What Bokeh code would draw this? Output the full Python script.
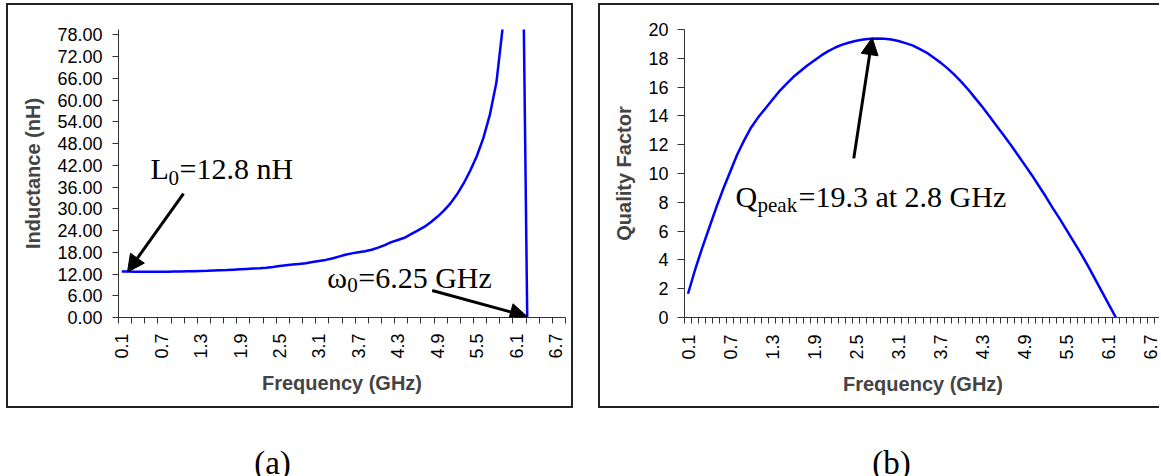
import math
from bokeh.plotting import figure
from bokeh.layouts import row, column
from bokeh.models import (FixedTicker, NumeralTickFormatter, Arrow, NormalHead,
                          Label, Range1d)
from bokeh.embed import file_html
from bokeh.resources import INLINE

# ---------------- data ----------------
freq_ghz = [round(0.1 * k, 1) for k in range(1, 69)]   # category axis 0.1 .. 6.8 GHz

inductance_nh = [
    12.7, 12.7, 12.65, 12.6, 12.6, 12.6, 12.6, 12.65, 12.7, 12.7,
    12.75, 12.8, 12.85, 12.9, 13.0, 13.05, 13.1, 13.2, 13.3, 13.4,
    13.5, 13.6, 13.75, 13.95, 14.2, 14.4, 14.6, 14.8, 15.0, 15.3,
    15.6, 15.9, 16.3, 16.8, 17.3, 17.7, 18.0, 18.3, 18.7, 19.3,
    20.0, 20.8, 21.4, 22.0, 23.0, 24.0, 25.0, 26.3, 27.8, 29.5,
    31.5, 34.0, 37.0, 40.5, 44.5, 49.5, 56.0, 65.0, 81.0, 95.0,
    100.0, 105.0, -50.0, -30.0, -22.0, -18.0, -15.0, -13.0,
]

quality_factor = [
    1.65, 3.3, 4.8, 6.2, 7.6, 8.9, 10.1, 11.3, 12.3, 13.2,
    13.9, 14.5, 15.1, 15.7, 16.2, 16.7, 17.1, 17.5, 17.85, 18.2,
    18.5, 18.75, 18.95, 19.1, 19.22, 19.3, 19.35, 19.37, 19.35, 19.3,
    19.2, 19.05, 18.9, 18.65, 18.4, 18.05, 17.7, 17.3, 16.85, 16.35,
    15.8, 15.2, 14.6, 13.95, 13.3, 12.65, 12.0, 11.3, 10.6, 9.9,
    9.15, 8.4, 7.6, 6.85, 6.05, 5.25, 4.45, 3.6, 2.7, 1.8,
    0.9, 0.0, -0.9, -1.8, -2.7, -3.6, -4.5, -5.4,
]

x_tick_labels = ["0.1", "0.7", "1.3", "1.9", "2.5", "3.1", "3.7", "4.3", "4.9", "5.5", "6.1", "6.7"]
l_tick_values = [0, 6, 12, 18, 24, 30, 36, 42, 48, 54, 60, 66, 72, 78]
q_tick_values = [0, 2, 4, 6, 8, 10, 12, 14, 16, 18, 20]
captions = ["(a)", "(b)"]

x_ticks = [float(s) for s in x_tick_labels]
left_minor = [round(0.05 + 0.2 * k, 2) for k in range(35)]
right_minor = [round(0.05 + 0.1 * k, 2) for k in range(69)]

SANS = "Liberation Sans"
SERIF = "Liberation Serif"
BLUE = "#0000FF"
AX = "#333333"
BOX = "2px solid #222222"


def style(p, minor, yticks, yfmt, ytitle, xstand, ystand):
    p.grid.visible = False
    p.outline_line_color = None
    p.background_fill_color = "white"
    p.border_fill_color = "white"
    xa = p.xaxis[0]
    xa.ticker = FixedTicker(ticks=x_ticks, minor_ticks=minor)
    xa.formatter = NumeralTickFormatter(format="0.0")
    xa.major_tick_line_color = None
    xa.major_tick_out = 6
    xa.major_tick_in = 0
    xa.minor_tick_out = 6
    xa.minor_tick_in = 0
    xa.minor_tick_line_color = AX
    xa.axis_line_color = AX
    xa.major_label_orientation = math.pi / 2
    xa.major_label_standoff = xstand
    xa.major_label_text_font = SANS
    xa.major_label_text_font_size = "18px"
    xa.major_label_text_color = "black"
    xa.axis_label = "Frequency (GHz)"
    xa.axis_label_text_font = SANS
    xa.axis_label_text_font_style = "bold"
    xa.axis_label_text_font_size = "20px"
    xa.axis_label_standoff = 10
    ya = p.yaxis[0]
    ya.ticker = FixedTicker(ticks=yticks, minor_ticks=[])
    ya.formatter = NumeralTickFormatter(format=yfmt)
    ya.major_tick_out = 6
    ya.major_tick_in = 0
    ya.major_tick_line_color = AX
    ya.axis_line_color = AX
    ya.major_label_standoff = ystand
    ya.major_label_text_font = SANS
    ya.major_label_text_font_size = "18px"
    ya.major_label_text_color = "black"
    ya.axis_label = ytitle
    ya.axis_label_text_font = SANS
    ya.axis_label_text_font_style = "bold"
    ya.axis_label_text_font_size = "20px"
    ya.axis_label_standoff = 10


def piece(p, x, y, text, dx, dy, size, align="left"):
    p.add_layout(Label(x=x, y=y, text=text, x_offset=dx, y_offset=dy,
                       text_font=SERIF, text_font_size=size, text_color="black",
                       text_align=align, text_baseline="alphabetic"))


def arrow(p, xs, ys, xe, ye):
    p.add_layout(Arrow(end=NormalHead(size=17, fill_color="black", line_color="black"),
                       x_start=xs, y_start=ys, x_end=xe, y_end=ye,
                       line_width=3, line_color="black"))


# ---------------- (a) inductance ----------------
pa = figure(width=567, height=405, output_backend="svg", toolbar_location=None,
            x_range=Range1d(0.05, 6.85), y_range=Range1d(0, 79.5),
            min_border_left=110, min_border_right=10, min_border_top=24, min_border_bottom=93,
            styles={"border": BOX})
pa.margin = (3, 0, 0, 6)
style(pa, left_minor, l_tick_values, "0.00", "Inductance (nH)", 10, 10)
pa.line(freq_ghz, inductance_nh, line_color=BLUE, line_width=2.5)

piece(pa, 0.537, 41.1, "L", 0, 0, "30px")
piece(pa, 0.537, 41.1, "0", 18, -9, "21px")
piece(pa, 0.537, 41.1, "=12.8 nH", 29, 0, "30px")
arrow(pa, 1.039, 34.2, 0.187, 12.55)

piece(pa, 3.225, 11.12, "\u03c9", 0, 0, "30px")
piece(pa, 3.225, 11.12, "0", 20, -8, "21px")
piece(pa, 3.225, 11.12, "=6.25 GHz", 31, 0, "30px")
arrow(pa, 4.822, 7.45, 6.267, 0.28)

# ---------------- (b) quality factor ----------------
pb = figure(width=561, height=405, output_backend="svg", toolbar_location=None,
            x_range=Range1d(0.05, 6.85), y_range=Range1d(0, 20),
            min_border_left=84, min_border_right=0, min_border_top=24, min_border_bottom=92,
            styles={"border-top": BOX, "border-left": BOX, "border-bottom": BOX})
pb.margin = (3, 0, 0, 25)
style(pb, right_minor, q_tick_values, "0", "Quality Factor", 11, 9)
pb.yaxis[0].major_tick_out = 7
pb.line(freq_ghz, quality_factor, line_color=BLUE, line_width=2.5)

piece(pb, 0.777, 8.39, "Q", 0, 0, "30px")
piece(pb, 0.777, 8.39, "peak", 22, -8, "21px")
piece(pb, 0.777, 8.39, "=19.3 at 2.8 GHz", 63, 0, "30px")
arrow(pb, 2.463, 11.05, 2.726, 19.43)

# ---------------- captions ----------------
cap = figure(width=1161, height=68, output_backend="svg", toolbar_location=None,
             x_range=Range1d(0, 1161), y_range=Range1d(0, 68),
             x_axis_location=None, y_axis_location=None, min_border=0)
cap.grid.visible = False
cap.outline_line_color = None
piece(cap, 272, 14, captions[0], 0, 0, "33px", "center")
piece(cap, 891, 14, captions[1], 0, 0, "33px", "center")

layout = column(row(pa, pb), cap)
open("out.html", "w").write(file_html(layout, INLINE))
